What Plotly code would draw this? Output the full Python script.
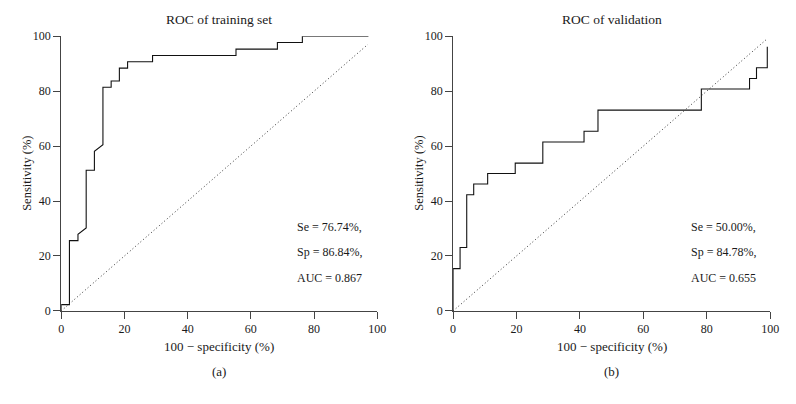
import plotly.graph_objects as go

# ---- data ----
train_fpr = [0, 0, 2.6, 2.6, 5.3, 5.3, 7.9, 7.9, 10.5, 10.5, 13.2, 13.2, 15.8, 15.8,
             18.4, 18.4, 21.0, 21.0, 28.9, 28.9, 55.3, 55.3, 68.4, 68.4, 76.3, 76.3, 97.2]
train_tpr = [0, 2.3, 2.3, 25.6, 25.6, 27.9, 30.2, 51.2, 51.2, 58.1, 60.5, 81.4, 81.4, 83.7,
             83.7, 88.4, 88.4, 90.7, 90.7, 93.0, 93.0, 95.3, 95.3, 97.7, 97.7, 100, 100]

valid_fpr = [0, 0, 2.2, 2.2, 4.3, 4.3, 6.5, 6.5, 10.9, 10.9, 19.6, 19.6, 28.3, 28.3,
             41.3, 41.3, 45.7, 45.7, 78.3, 78.3, 93.5, 93.5, 95.7, 95.7, 99.1, 99.1]
valid_tpr = [0, 15.4, 15.4, 23.1, 23.1, 42.3, 42.3, 46.2, 46.2, 50.0, 50.0, 53.8, 53.8, 61.5,
             61.5, 65.4, 65.4, 73.1, 73.1, 80.8, 80.8, 84.6, 84.6, 88.5, 88.5, 96.2]

train_diag = [0, 97]
valid_diag = [0, 99]

titles = ["ROC of training set", "ROC of validation"]
panel_labels = ["(a)", "(b)"]
train_stats = ["Se = 76.74%,", "Sp = 86.84%,", "AUC = 0.867"]
valid_stats = ["Se = 50.00%,", "Sp = 84.78%,", "AUC = 0.655"]
tick_vals = [0, 20, 40, 60, 80, 100]

FONT = "Liberation Serif"
TXT = "#1a1a1a"
AX = "#444444"

# the page body has an 8px margin; size the figure so the page is exactly 796x404
OFF = 8
W, H = 796 - 2 * OFF, 404 - 2 * OFF

def px(x):
    return (x - OFF) / W

def py(y):
    return 1 - (y - OFF) / H

fig = go.Figure()

fig.add_trace(go.Scatter(x=train_fpr, y=train_tpr, mode="lines", xaxis="x", yaxis="y",
                         line=dict(color="#111111", width=1.1), showlegend=False))
fig.add_trace(go.Scatter(x=train_diag, y=train_diag, mode="lines", xaxis="x", yaxis="y",
                         line=dict(color="#333333", width=1, dash="1px,2.5px"), showlegend=False))
fig.add_trace(go.Scatter(x=valid_fpr, y=valid_tpr, mode="lines", xaxis="x2", yaxis="y2",
                         line=dict(color="#111111", width=1.1), showlegend=False))
fig.add_trace(go.Scatter(x=valid_diag, y=valid_diag, mode="lines", xaxis="x2", yaxis="y2",
                         line=dict(color="#333333", width=1, dash="1px,2.5px"), showlegend=False))

lx0, lx1 = 59, 380
rx0, rx1 = 457, 779
y0px, y1px = 315, 30

ydom = [py(y0px), py(y1px)]

axis_common = dict(range=[0, 100], tickvals=tick_vals, showgrid=False, zeroline=False,
                   showline=True, linecolor=AX, linewidth=1, ticks="outside", ticklen=7,
                   tickcolor=AX, tickwidth=1, tickfont=dict(family=FONT, size=12, color=TXT),
                   fixedrange=True)

fig.update_layout(
    width=W, height=H, margin=dict(l=0, r=0, t=0, b=0),
    paper_bgcolor="white", plot_bgcolor="white",
    xaxis=dict(domain=[px(lx0), px(lx1)], anchor="y", **axis_common),
    yaxis=dict(domain=ydom, anchor="x", **axis_common),
    xaxis2=dict(domain=[px(rx0), px(rx1)], anchor="y2", **axis_common),
    yaxis2=dict(domain=ydom, anchor="x2", **axis_common),
)

ann = []
for i, (a, b) in enumerate([(lx0, lx1), (rx0, rx1)]):
    cx = px((a + b) / 2)
    ann.append(dict(text=titles[i], x=cx, y=py(13), xref="paper", yref="paper",
                    showarrow=False, xanchor="center", yanchor="middle",
                    font=dict(family=FONT, size=13.5, color=TXT)))
    ann.append(dict(text="100 \u2212 specificity (%)", x=cx, y=py(352), xref="paper", yref="paper",
                    showarrow=False, xanchor="center", yanchor="middle",
                    font=dict(family=FONT, size=13, color=TXT)))
    ann.append(dict(text=panel_labels[i], x=cx, y=py(378), xref="paper", yref="paper",
                    showarrow=False, xanchor="center", yanchor="middle",
                    font=dict(family=FONT, size=13, color=TXT)))
    ann.append(dict(text="Sensitivity (%)", x=px(a - 35), y=py(172), xref="paper", yref="paper",
                    showarrow=False, xanchor="center", yanchor="middle", textangle=-90,
                    font=dict(family=FONT, size=12.5, color=TXT)))

stat_y = [228, 254, 281]
for stats, xpx in [(train_stats, 296), (valid_stats, 697)]:
    for s, ypx in zip(stats, stat_y):
        ann.append(dict(text=s, x=px(xpx), y=py(ypx), xref="paper", yref="paper",
                        showarrow=False, xanchor="left", yanchor="middle",
                        font=dict(family=FONT, size=12, color=TXT)))

fig.update_layout(annotations=ann)

fig.write_html("out.html")
